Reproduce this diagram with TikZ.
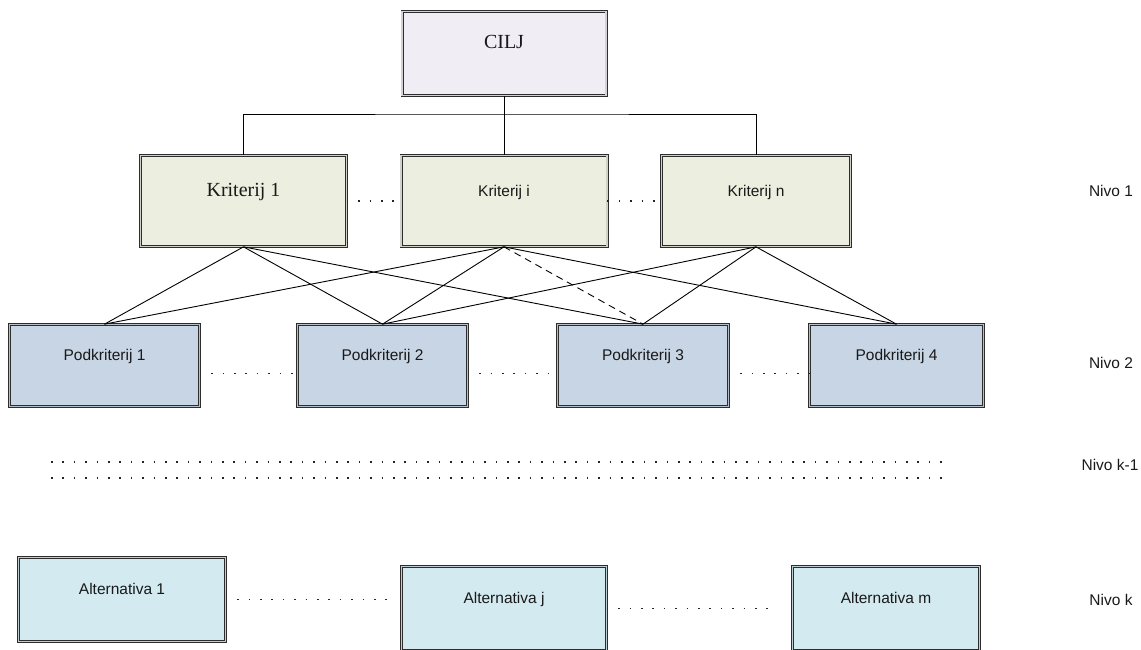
\documentclass[tikz,border=0pt]{standalone}
\usepackage{fontspec}
\setmainfont{Liberation Serif}
\setsansfont{Liberation Sans}
\usetikzlibrary{calc}
\definecolor{ciljbg}{RGB}{240,238,244}
\definecolor{kritbg}{RGB}{236,238,223}
\definecolor{podbg}{RGB}{200,213,229}
\definecolor{altbg}{RGB}{211,234,240}
\definecolor{rub}{RGB}{45,45,45}

\begin{document}
\begin{tikzpicture}[x=1pt, y=-1pt,
  lvl/.style={rectangle, draw=rub, line width=0.7pt, double=#1!75!gray, double distance=1.6pt, fill=#1, inner sep=0pt, text height=10pt, text depth=20pt, text=black!90, align=center},
  ser/.style={font=\fontsize{20}{24}\selectfont},
  sans/.style={font=\sffamily\fontsize{15.5}{18}\selectfont},
  con/.style={line width=0.9pt, black},
  dots/.style={line width=1.6pt, dash pattern=on 1.6pt off 9.8pt, black!85},
  nivo/.style={font=\sffamily\fontsize{15.5}{18}\selectfont, text=black!90}
]
\useasboundingbox (0,0) rectangle (1141,649);

% Cilj
\node[lvl=ciljbg, ser, minimum width=204pt, minimum height=84pt] (cilj) at (504,53.5) {CILJ};

% Nivo 1 (kriteriji)
\node[lvl=kritbg, ser, minimum width=206pt, minimum height=91pt] (k1) at (243.5,201) {Kriterij 1};
\node[lvl=kritbg, sans, minimum width=206pt, minimum height=91pt] (ki) at (504,201) {Kriterij i};
\node[lvl=kritbg, sans, minimum width=189pt, minimum height=91pt] (kn) at (756,201) {Kriterij n};

% Nivo 2 (podkriteriji)
\node[lvl=podbg, sans, minimum width=190pt, minimum height=82pt] (p1) at (104.5,365.5) {Podkriterij 1};
\node[lvl=podbg, sans, minimum width=170pt, minimum height=82pt] (p2) at (382.5,365.5) {Podkriterij 2};
\node[lvl=podbg, sans, minimum width=171pt, minimum height=82pt] (p3) at (643,365.5) {Podkriterij 3};
\node[lvl=podbg, sans, minimum width=174pt, minimum height=82pt] (p4) at (896.5,365.5) {Podkriterij 4};

% Nivo k (alternative)
\node[lvl=altbg, sans, minimum width=207pt, minimum height=84pt] (a1) at (122,599.5) {Alternativa 1};
\node[lvl=altbg, sans, minimum width=205pt, minimum height=84pt] (aj) at (504,608.5) {Alternativa j};
\node[lvl=altbg, sans, minimum width=187pt, minimum height=84pt] (am) at (886,608.5) {Alternativa m};

% Oznake nivoa
\node[nivo] (n1) at (1111,191) {Nivo 1};
\node[nivo] (n2) at (1111,363) {Nivo 2};
\node[nivo] (nk1) at (1110,465) {Nivo k-1};
\node[nivo] (nk) at (1111,600) {Nivo k};

% Stablo od cilja
\coordinate (bus) at (504,114);
\draw[con] (k1.north) |- (bus) -| (kn.north);
\draw[con] (cilj.south) -- (ki.north);

% Veze kriterij - podkriterij
\foreach \a/\b in {k1/p1, k1/p2, k1/p3, ki/p1, ki/p2, ki/p4, kn/p2, kn/p3, kn/p4}
  \draw[con] (\a.south) -- (\b.north);
\draw[con, dash pattern=on 7pt off 5pt] (ki.south) -- (p3.north);

% Tockice izmedju blokova
\draw[dots] (k1.east) -- (ki.west);
\draw[dots] (ki.east) -- (kn.west);
\draw[dots] ($(p1.east)+(0,8)$) -- ($(p2.west)+(0,8)$);
\draw[dots] ($(p2.east)+(0,8)$) -- ($(p3.west)+(0,8)$);
\draw[dots] ($(p3.east)+(0,8)$) -- ($(p4.west)+(0,8)$);
\draw[dots] (a1.east) -- ($(a1.east -| aj.west)+(-10,0)$);
\draw[dots] (aj.east) -- ($(aj.east -| am.west)+(-15,0)$);

% Nivo k-1
\foreach \y in {462,478}
  \draw[dots] (51,\y) -- (946,\y);
\end{tikzpicture}
\end{document}
